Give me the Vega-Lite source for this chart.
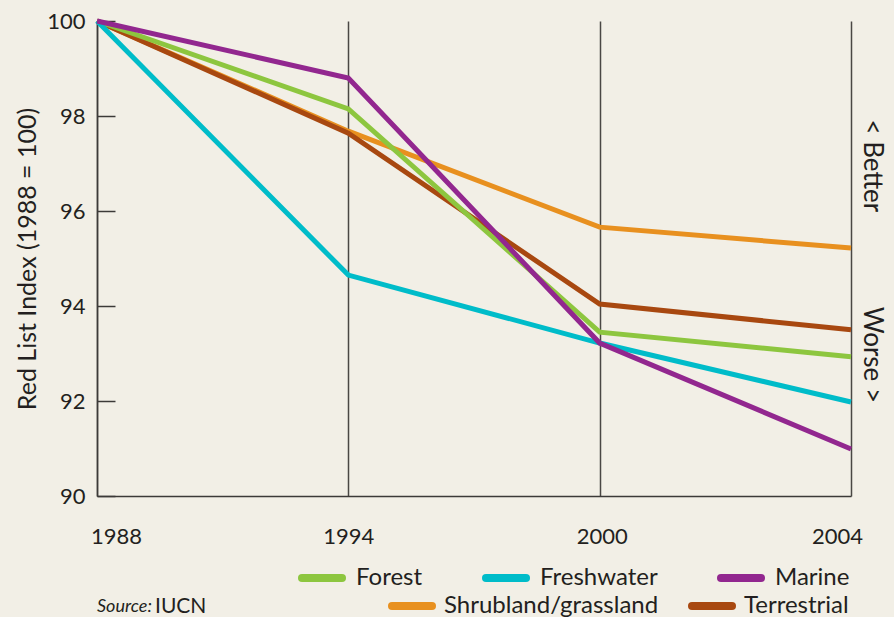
{
  "$schema": "https://vega.github.io/schema/vega-lite/v6.json",
  "autosize": "none",
  "width": 754,
  "height": 475,
  "padding": {"left": 97, "top": 21, "right": 43, "bottom": 121},
  "background": "#f2efe6",
  "config": {"view": {"stroke": null}, "font": "Lato"},
  "datasets": {
    "a": [
      {"habitat": "Forest", "year": 1988, "value": 100},
      {"habitat": "Forest", "year": 1994, "value": 98.15},
      {"habitat": "Forest", "year": 2000, "value": 93.45},
      {"habitat": "Forest", "year": 2004, "value": 92.93},
      {"habitat": "Freshwater", "year": 1988, "value": 100},
      {"habitat": "Freshwater", "year": 1994, "value": 94.65},
      {"habitat": "Freshwater", "year": 2000, "value": 93.22},
      {"habitat": "Freshwater", "year": 2004, "value": 91.98},
      {"habitat": "Marine", "year": 1988, "value": 100},
      {"habitat": "Marine", "year": 1994, "value": 98.8},
      {"habitat": "Marine", "year": 2000, "value": 93.22},
      {"habitat": "Marine", "year": 2004, "value": 90.99}
    ],
    "b": [
      {"habitat": "Shrubland/grassland", "year": 1988, "value": 100},
      {"habitat": "Shrubland/grassland", "year": 1994, "value": 97.68},
      {"habitat": "Shrubland/grassland", "year": 2000, "value": 95.66},
      {"habitat": "Shrubland/grassland", "year": 2004, "value": 95.22},
      {"habitat": "Terrestrial", "year": 1988, "value": 100},
      {"habitat": "Terrestrial", "year": 1994, "value": 97.64},
      {"habitat": "Terrestrial", "year": 2000, "value": 94.04},
      {"habitat": "Terrestrial", "year": 2004, "value": 93.5}
    ],
    "side": [
      {"year": 2004, "value": 96.95, "label": "<   Better"},
      {"year": 2004, "value": 92.97, "label": "Worse   >"}
    ],
    "src1": [{"year": 1988, "value": 87.66, "label": "Source:"}],
    "src2": [{"year": 1988, "value": 87.66, "label": "IUCN"}]
  },
  "encoding": {
    "x": {
      "field": "year", "type": "ordinal",
      "scale": {"type": "point", "padding": 0, "domain": [1988, 1994, 2000, 2004]},
      "axis": {
        "title": null, "labelAngle": 0,
        "grid": true, "gridColor": "#4a4744", "gridWidth": 1.5,
        "ticks": false, "domainColor": "#3c3a38", "domainWidth": 1.5,
        "labelFontSize": 22, "labelColor": "#231f20", "labelPadding": 30,
        "labelOffset": {"condition": [{"test": "datum.label == '1988'", "value": 19}, {"test": "datum.label == '2004'", "value": -14}, {"test": "datum.label == '2000'", "value": 2}], "value": 0}
      }
    },
    "y": {
      "field": "value", "type": "quantitative",
      "scale": {"domain": [90, 100]},
      "axis": {
        "values": [90, 92, 94, 96, 98, 100], "title": "Red List Index (1988 = 100)",
        "grid": false, "tickSize": -18, "tickColor": "#3c3a38", "tickWidth": 1.5,
        "domainColor": "#3c3a38", "domainWidth": 1.5,
        "labelFontSize": 22, "labelColor": "#231f20", "labelPadding": 30,
        "titleFontSize": 25, "titleFontWeight": "normal", "titleColor": "#231f20",
        "titlePadding": 6
      }
    }
  },
  "layer": [
    {
      "data": {"name": "b"},
      "mark": {"type": "line", "strokeWidth": 5},
      "encoding": {
        "color": {
          "field": "habitat", "type": "nominal",
          "scale": {"domain": ["Shrubland/grassland", "Terrestrial"], "range": ["#e8901f", "#a84810"]},
          "legend": {
            "orient": "none", "legendX": 291, "legendY": 561, "direction": "horizontal",
            "title": null, "symbolType": "stroke", "symbolSize": 1600, "symbolStrokeWidth": 8,
            "labelFontSize": 24, "labelColor": "#231f20", "labelOffset": 8, "labelLimit": 400, "columnPadding": 17,
            "encode": {"symbols": {"update": {"strokeCap": {"value": "round"}}}}
          }
        }
      }
    },
    {
      "data": {"name": "a"},
      "mark": {"type": "line", "strokeWidth": 5},
      "encoding": {
        "color": {
          "field": "habitat", "type": "nominal",
          "scale": {"domain": ["Forest", "Freshwater", "Marine"], "range": ["#8dc63f", "#00bcc9", "#92278f"]},
          "legend": {
            "orient": "none", "legendX": 201, "legendY": 533, "direction": "horizontal",
            "title": null, "symbolType": "stroke", "symbolSize": 1600, "symbolStrokeWidth": 8,
            "labelFontSize": 24, "labelColor": "#231f20", "labelOffset": 10, "labelLimit": 400, "columnPadding": 47,
            "encode": {"symbols": {"update": {"strokeCap": {"value": "round"}}}}
          }
        }
      }
    },
    {
      "data": {"name": "side"},
      "mark": {"type": "text", "angle": 90, "dy": -21, "align": "center", "baseline": "middle", "fontSize": 26, "color": "#231f20"},
      "encoding": {"text": {"field": "label"}}
    },
    {
      "data": {"name": "src1"},
      "mark": {"type": "text", "align": "left", "baseline": "middle", "fontSize": 18, "fontStyle": "italic", "color": "#231f20"},
      "encoding": {"text": {"field": "label"}}
    },
    {
      "data": {"name": "src2"},
      "mark": {"type": "text", "align": "left", "baseline": "middle", "dx": 58, "fontSize": 21, "color": "#231f20"},
      "encoding": {"text": {"field": "label"}}
    }
  ],
  "resolve": {"scale": {"color": "independent"}}
}
